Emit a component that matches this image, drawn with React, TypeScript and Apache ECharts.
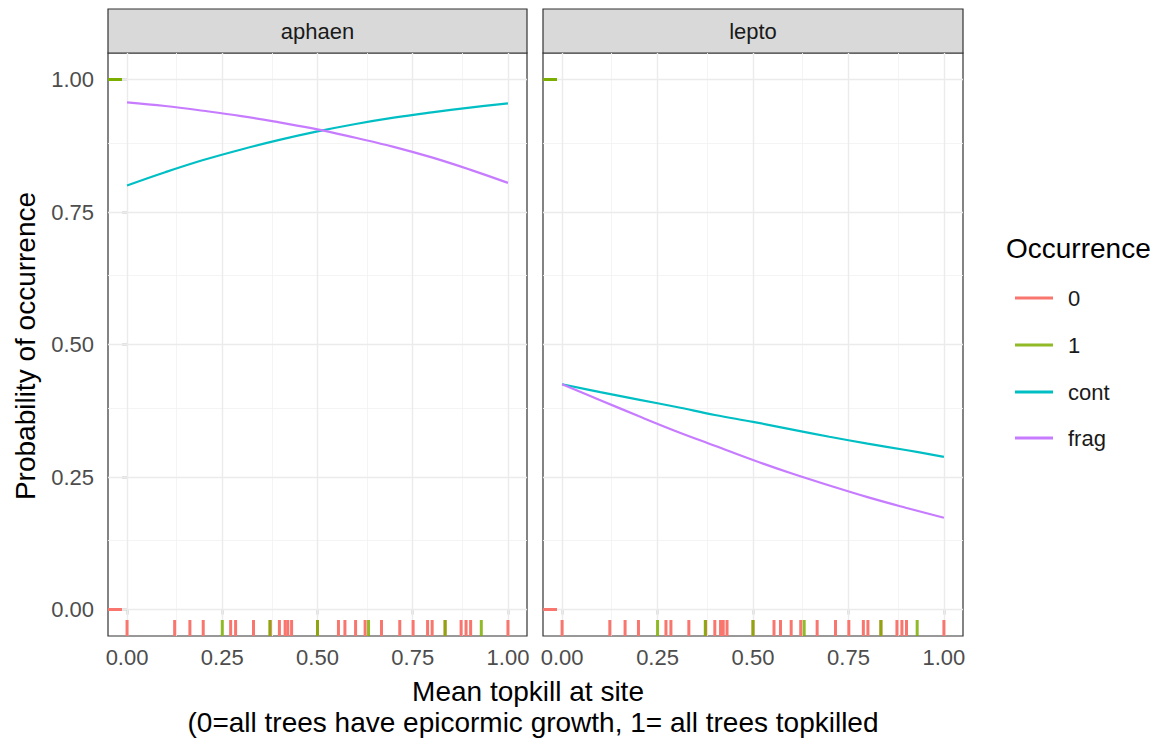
import React, { useEffect, useRef } from "react";
import * as echarts from "echarts";

const panels = ["aphaen", "lepto"];
const occNames = ["0", "1", "cont", "frag"];
const occColors = ["#F8766D", "#7CAE00", "#00BFC4", "#C77CFF"];

const xTicks = [0, 0.25, 0.5, 0.75, 1];
const xTickLabels = ["0.00", "0.25", "0.50", "0.75", "1.00"];
const xMinor = [0.125, 0.375, 0.625, 0.875];
const yTicks = [0, 0.25, 0.5, 0.75, 1];
const yTickLabels = ["0.00", "0.25", "0.50", "0.75", "1.00"];
const yMinor = [0.125, 0.375, 0.625, 0.875];

const curveX = [0, 0.1, 0.2, 0.3, 0.4, 0.5, 0.6, 0.7, 0.8, 0.9, 1.0];
const aphaenCont = [0.8, 0.825, 0.848, 0.868, 0.886, 0.902, 0.916, 0.928, 0.938, 0.947, 0.955];
const aphaenFrag = [0.957, 0.95, 0.941, 0.931, 0.919, 0.906, 0.89, 0.873, 0.853, 0.83, 0.805];
const leptoCont = [0.425, 0.41, 0.396, 0.382, 0.367, 0.354, 0.34, 0.326, 0.313, 0.301, 0.288];
const leptoFrag = [0.425, 0.395, 0.365, 0.336, 0.309, 0.282, 0.257, 0.234, 0.212, 0.192, 0.173];

// rug: site mean topkill, by occurrence
const rug0 = [0, 0.125, 0.165, 0.2, 0.272, 0.285, 0.332, 0.376, 0.4, 0.415, 0.422, 0.432, 0.5, 0.555, 0.572, 0.6, 0.625, 0.668, 0.716, 0.751, 0.789, 0.801, 0.835, 0.877, 0.89, 0.902, 1.0];
const rug1 = [0.25, 0.375, 0.5, 0.634, 0.835, 0.93];
// left-side rug: observed occurrence values
const rugY0 = [0];
const rugY1 = [1];

const FONT = "'Liberation Sans', Arial, Helvetica, sans-serif";
const AX_MIN = -0.05;
const AX_MAX = 1.05;

const gridPos = [
  { left: 108, top: 53, width: 419, height: 583 },
  { left: 543, top: 53, width: 420, height: 583 },
];

export default function App() {
  const ref = useRef<HTMLDivElement>(null);
  useEffect(() => {
    if (!ref.current) return;
    const chart = echarts.init(ref.current, undefined, { renderer: "svg" });

    const majorStyle = { color: "#EBEBEB", width: 1.4, type: "solid" as const };
    const minorStyle = { color: "#F3F3F3", width: 0.9, type: "solid" as const };

    const grids = gridPos.map((g) => ({
      ...g,
      show: true,
      borderColor: "#333333",
      borderWidth: 1.2,
      backgroundColor: "#FFFFFF",
      containLabel: false,
    }));

    const xAxes = panels.map((_, i) => ({
      type: "value" as const,
      gridIndex: i,
      min: AX_MIN,
      max: AX_MAX,
      axisLine: { show: false },
      splitLine: { show: false },
      axisTick: { show: true, length: 5, lineStyle: { color: "#333333", width: 1.3 }, customValues: xTicks },
      axisLabel: {
        show: true,
        customValues: xTicks,
        margin: 10,
        fontSize: 22,
        color: "#4D4D4D",
        fontFamily: FONT,
        formatter: (v: number) => xTickLabels[xTicks.indexOf(v)] ?? "",
      },
    }));

    const yAxes = panels.map((_, i) => ({
      type: "value" as const,
      gridIndex: i,
      min: AX_MIN,
      max: AX_MAX,
      axisLine: { show: false },
      splitLine: { show: false },
      axisTick: { show: i === 0, length: 5, lineStyle: { color: "#333333", width: 1.3 }, customValues: yTicks },
      axisLabel: {
        show: i === 0,
        customValues: yTicks,
        margin: 14,
        fontSize: 22,
        color: "#4D4D4D",
        fontFamily: FONT,
        formatter: (v: number) => yTickLabels[yTicks.indexOf(v)] ?? "",
      },
    }));

    const series: any[] = [];
    panels.forEach((_, i) => {
      // grid lines
      series.push({
        type: "line",
        xAxisIndex: i,
        yAxisIndex: i,
        data: [],
        silent: true,
        z: 1,
        markLine: {
          silent: true,
          z: 1,
          symbol: ["none", "none"],
          label: { show: false },
          animation: false,
          data: [
            ...xMinor.map((v) => ({ xAxis: v, lineStyle: minorStyle })),
            ...yMinor.map((v) => ({ yAxis: v, lineStyle: minorStyle })),
            ...xTicks.map((v) => ({ xAxis: v, lineStyle: majorStyle })),
            ...yTicks.map((v) => ({ yAxis: v, lineStyle: majorStyle })),
          ],
        },
      });
      // rugs
      const rugBottom = [rug0, rug1];
      const rugLeft = [rugY0, rugY1];
      [0, 1].forEach((k) => {
        series.push({
          name: occNames[k],
          type: "scatter",
          xAxisIndex: i,
          yAxisIndex: i,
          clip: false,
          symbol: "rect",
          symbolSize: [3, 16],
          symbolOffset: [0, -8],
          itemStyle: { color: occColors[k], opacity: k === 1 ? 0.85 : 1 },
          z: 10,
          data: rugBottom[k].map((x) => [x, AX_MIN]),
        });
        series.push({
          name: occNames[k],
          type: "scatter",
          xAxisIndex: i,
          yAxisIndex: i,
          clip: false,
          symbol: "rect",
          symbolSize: [14, 3],
          symbolOffset: [7, 0],
          itemStyle: { color: occColors[k], opacity: 1 },
          z: 10,
          data: rugLeft[k].map((y) => [AX_MIN, y]),
        });
      });
      const curves = i === 0 ? [aphaenCont, aphaenFrag] : [leptoCont, leptoFrag];
      curves.forEach((vals, k) => {
        series.push({
          name: occNames[k + 2],
          type: "line",
          xAxisIndex: i,
          yAxisIndex: i,
          smooth: 0.4,
          showSymbol: false,
          symbol: "none",
          color: occColors[k + 2],
          lineStyle: { color: occColors[k + 2], width: 2.2 },
          z: 11,
          data: curveX.map((x, j) => [x, vals[j]]),
        });
      });
    });

    const legendCenters = [298, 345, 392, 438];
    const legends = occNames.map((name, i) => ({
      data: [{ name, icon: "rect", itemStyle: { color: occColors[i] } }],
      left: 1010,
      top: legendCenters[i] - 16,
      itemWidth: 38,
      itemHeight: 3,
      selectedMode: false,
      textStyle: { fontSize: 22, color: "#1A1A1A", fontFamily: FONT, padding: [0, 0, 0, 10] },
    }));

    const graphic: any[] = [];
    gridPos.forEach((g, i) => {
      graphic.push({
        type: "rect",
        shape: { x: g.left, y: 9, width: g.width, height: 44 },
        style: { fill: "#D9D9D9", stroke: "#333333", lineWidth: 1.2 },
        silent: true,
      });
      graphic.push({
        type: "text",
        x: g.left + g.width / 2,
        y: 31,
        style: {
          text: panels[i],
          fontSize: 22,
          fontFamily: FONT,
          fill: "#1A1A1A",
          textAlign: "center",
          textVerticalAlign: "middle",
        },
      });
    });
    graphic.push({
      type: "text",
      x: 25,
      y: 346,
      rotation: Math.PI / 2,
      style: {
        text: "Probability of occurrence",
        fontSize: 28,
        fontFamily: FONT,
        fill: "#000000",
        textAlign: "center",
        textVerticalAlign: "middle",
      },
    });
    graphic.push({
      type: "text",
      x: 528,
      y: 691,
      style: {
        text: "Mean topkill at site",
        fontSize: 28,
        fontFamily: FONT,
        fill: "#000000",
        textAlign: "center",
        textVerticalAlign: "middle",
      },
    });
    graphic.push({
      type: "text",
      x: 533,
      y: 722,
      style: {
        text: "(0=all trees have epicormic growth, 1= all trees topkilled",
        fontSize: 28,
        fontFamily: FONT,
        fill: "#000000",
        textAlign: "center",
        textVerticalAlign: "middle",
      },
    });
    graphic.push({
      type: "text",
      x: 1006,
      y: 248,
      style: {
        text: "Occurrence",
        fontSize: 28,
        fontFamily: FONT,
        fill: "#000000",
        textAlign: "left",
        textVerticalAlign: "middle",
      },
    });

    chart.setOption({
      animation: false,
      backgroundColor: "#FFFFFF",
      grid: grids,
      xAxis: xAxes,
      yAxis: yAxes,
      legend: legends,
      series,
      graphic,
    });
    return () => chart.dispose();
  }, []);
  return <div ref={ref} style={{ width: 1163, height: 742, position: "absolute", left: 0, top: 0 }} />;
}
